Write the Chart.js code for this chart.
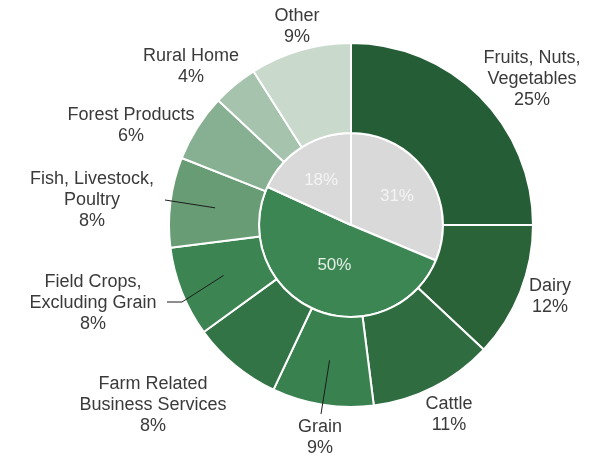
<!DOCTYPE html>
<html>
<head>
<meta charset="utf-8">
<script src="https://cdn.jsdelivr.net/npm/chart.js@4.4.0/dist/chart.umd.min.js"></script>
<style>
  html, body { margin: 0; padding: 0; background: #fff; }
</style>
</head>
<body>
<canvas id="shareChart" width="591" height="458"></canvas>
<script>
'use strict';

// data
var categories = [
  ['Fruits, Nuts,', 'Vegetables'],
  ['Dairy'],
  ['Cattle'],
  ['Grain'],
  ['Farm Related', 'Business Services'],
  ['Field Crops,', 'Excluding Grain'],
  ['Fish, Livestock,', 'Poultry'],
  ['Forest Products'],
  ['Rural Home'],
  ['Other']
];
var shares = [25, 12, 11, 9, 8, 8, 8, 6, 4, 9];
var innerShares = [31, 50, 18];

// styles
var outerColors = ['#255d37', '#2b6339', '#2f6d41', '#3a8150', '#337447',
  '#3c8451', '#689c74', '#87af91', '#a6c3ad', '#c9dacd'];
var innerColors = ['#d9d9d9', '#3b8653', '#d9d9d9'];
var innerTextColors = ['#f4f4f4', '#e4efe6', '#f4f4f4'];

// where Excel put the outside labels (centre of each text block)
var labelSpots = [[532, 79], [550, 297], [449, 415], [320, 438], [153, 405],
  [93, 303], [92, 200], [131, 126], [191, 67], [297, 27]];
// leader lines, from the text towards the middle of the slice
var leaders = {
  3: [[321, 414]],
  5: [[167, 302], [182, 302]],
  6: [[165, 200]]
};

var FONT = '"Liberation Sans", Arial, sans-serif';

var labelPlugin = {
  id: 'sliceLabels',
  afterDatasetsDraw: function(chart) {
    var ctx = chart.ctx;
    var outer = chart.getDatasetMeta(0);
    var inner = chart.getDatasetMeta(1);
    ctx.save();

    // leader lines
    ctx.strokeStyle = '#1c1c1c';
    ctx.lineWidth = 1;
    Object.keys(leaders).forEach(function(k) {
      var arc = outer.data[k].getProps(['x', 'y', 'startAngle', 'endAngle', 'innerRadius', 'outerRadius'], true);
      var mid = (arc.startAngle + arc.endAngle) / 2;
      var r = (arc.innerRadius + arc.outerRadius) / 2;
      var pts = leaders[k];
      ctx.beginPath();
      ctx.moveTo(pts[0][0], pts[0][1]);
      for (var j = 1; j < pts.length; j++) {
        ctx.lineTo(pts[j][0], pts[j][1]);
      }
      ctx.lineTo(arc.x + Math.cos(mid) * r, arc.y + Math.sin(mid) * r);
      ctx.stroke();
    });

    // outside labels
    ctx.fillStyle = '#3a3a3a';
    ctx.font = '18px ' + FONT;
    ctx.textAlign = 'center';
    ctx.textBaseline = 'middle';
    var lineH = 21;
    for (var i = 0; i < categories.length; i++) {
      var lines = categories[i].concat([shares[i] + '%']);
      var top = labelSpots[i][1] - (lines.length - 1) * lineH / 2;
      for (var n = 0; n < lines.length; n++) {
        ctx.fillText(lines[n], labelSpots[i][0], top + n * lineH);
      }
    }

    // inner pie labels
    ctx.font = '17px ' + FONT;
    for (var m = 0; m < innerShares.length; m++) {
      var a = inner.data[m].getProps(['x', 'y', 'startAngle', 'endAngle', 'outerRadius'], true);
      var midA = (a.startAngle + a.endAngle) / 2;
      var rr = a.outerRadius * (m === 1 ? 0.45 : 0.6);
      ctx.fillStyle = innerTextColors[m];
      ctx.fillText(innerShares[m] + '%', a.x + Math.cos(midA) * rr, a.y + Math.sin(midA) * rr + 2);
    }
    ctx.restore();
  }
};

var ctx = document.getElementById('shareChart').getContext('2d');
var shareChart = new Chart(ctx, { //eslint-disable-line
  type: 'doughnut',
  data: {
    labels: categories.map(function(c) { return c.join(' '); }),
    datasets: [
      {
        data: shares,
        backgroundColor: outerColors,
        borderColor: '#ffffff',
        borderWidth: 2,
        hoverBorderWidth: 2,
        weight: 90
      },
      {
        data: innerShares,
        backgroundColor: innerColors,
        borderColor: '#ffffff',
        borderWidth: 2,
        hoverBorderWidth: 2,
        weight: 92
      }
    ]
  },
  options: {
    responsive: false,
    animation: false,
    cutout: 0,
    layout: {
      padding: { left: 168, right: 57, top: 42, bottom: 50 }
    },
    plugins: {
      legend: { display: false },
      tooltip: { enabled: false }
    }
  },
  plugins: [labelPlugin]
});
</script>
</body>
</html>
